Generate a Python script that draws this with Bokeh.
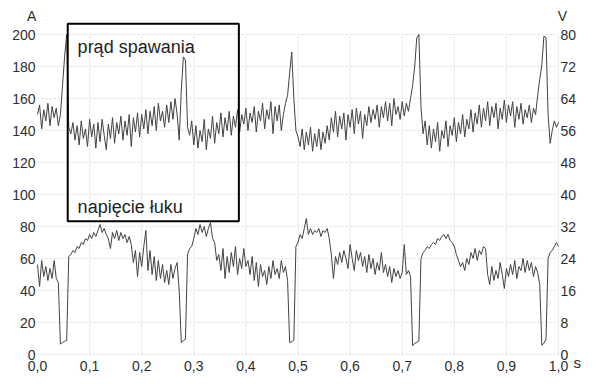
import numpy as np
from bokeh.plotting import figure
from bokeh.models import Range1d, BoxAnnotation, Label, ColumnDataSource
from bokeh.core.properties import value
from bokeh.embed import file_html
from bokeh.resources import INLINE

# ---- data ----
time_step_s = 0.004

current_A = [
    150, 156, 141, 153, 146, 157, 143, 155, 148, 154,
    143, 150, 168, 186, 200, 142, 138, 145, 134, 143,
    131, 146, 135, 141, 130, 147, 136, 144, 129, 145,
    133, 147, 137, 128, 144, 135, 148, 132, 145, 138,
    149, 134, 146, 137, 150, 130, 148, 139, 151, 136,
    150, 141, 153, 138, 152, 143, 155, 140, 157, 146,
    152, 142, 156, 145, 158, 147, 160, 150, 134, 165,
    186, 184, 142, 137, 146, 131, 143, 129, 140, 133,
    147, 128, 141, 135, 149, 132, 145, 138, 151, 136,
    148, 140, 152, 137, 149, 142, 153, 139, 150, 144,
    154, 140, 151, 145, 155, 139, 152, 146, 157, 141,
    153, 147, 158, 138, 155, 146, 156, 140, 150, 157,
    162, 176, 189, 160, 140, 136, 130, 141, 128, 139,
    131, 142, 127, 138, 130, 141, 128, 139, 132, 143,
    134, 148, 139, 152, 136, 149, 141, 151, 134, 150,
    142, 153, 138, 154, 144, 152, 135, 150, 143, 155,
    145, 153, 147, 156, 142, 155, 148, 158, 146, 157,
    143, 160, 150, 155, 147, 158, 149, 157, 152, 160,
    168, 180, 198, 200, 155, 138, 146, 131, 143, 129,
    141, 133, 145, 127, 140, 135, 146, 130, 143, 137,
    148, 133, 145, 138, 150, 136, 147, 141, 153, 139,
    151, 144, 156, 142, 154, 146, 158, 143, 155, 148,
    157, 141, 154, 147, 159, 145, 156, 149, 158, 142,
    155, 147, 157, 144, 153, 148, 156, 145, 154, 150,
    162, 172, 181, 199, 198, 150, 132, 140, 146, 142,
    145,
]

voltage_V = [
    22.5, 17.0, 23.5, 19.5, 22.0, 18.5, 21.5, 19.0, 23.5, 19.0,
    18.0, 2.6, 3.0, 3.3, 3.5, 24.5, 25.0, 26.0, 25.5, 27.0,
    26.5, 28.0, 27.5, 29.0, 28.5, 30.0, 29.0, 30.5, 29.5, 31.0,
    32.5, 30.5, 31.5, 30.0, 29.0, 26.5, 30.5, 29.0, 31.0, 28.5,
    30.5, 29.0, 30.0, 28.0, 29.5, 27.5, 23.0, 26.0, 19.5, 25.5,
    22.0, 27.0, 31.0, 21.0, 26.0, 20.0, 24.5, 18.5, 23.5, 19.0,
    22.5, 18.0, 21.0, 17.5, 22.5, 19.0, 21.5, 23.0, 16.0, 3.0,
    3.5, 3.8, 25.0, 26.5, 27.0, 29.0, 31.5, 30.0, 32.5, 30.5,
    32.0, 29.5, 31.5, 33.0, 29.0, 28.0, 23.5, 25.0, 21.0, 26.5,
    19.0, 24.5, 20.5, 25.5, 22.0, 27.0, 20.0, 24.0, 21.5, 26.5,
    22.0, 23.5, 20.0, 24.5, 18.5, 23.0, 17.0, 22.5, 19.5, 21.0,
    17.5, 22.0, 19.0, 23.5, 20.0, 21.5, 19.0, 23.5, 20.5, 22.0,
    18.5, 3.0, 3.2, 3.6, 27.0, 28.0, 30.0, 29.0, 31.5, 34.0,
    30.0, 31.5, 30.0, 31.0, 30.5, 31.5, 29.5, 31.0, 30.5, 31.5,
    29.0, 25.0, 19.0, 24.5, 22.5, 25.5, 23.0, 26.0, 24.0, 21.5,
    27.5, 24.0, 21.0, 26.0, 23.5, 25.5, 22.0, 24.5, 20.5, 25.0,
    21.5, 24.0, 20.0, 23.0, 21.0, 25.5, 20.5, 22.5, 19.5, 22.0,
    18.0, 21.5, 19.5, 21.0, 19.0, 20.5, 27.5, 20.0, 21.0, 19.5,
    2.2, 2.8, 3.0, 3.4, 24.0, 25.5, 26.0, 27.0, 26.5, 27.5,
    28.0, 27.5, 29.0, 28.5, 29.5, 30.0, 29.0, 30.0, 28.5, 28.0,
    27.0, 25.0, 23.5, 22.0, 23.0, 21.0, 24.0, 22.5, 25.5, 24.0,
    26.5, 23.5, 26.0, 25.0, 27.0, 26.5, 20.0, 17.5, 22.0, 18.5,
    21.0, 19.0, 23.0, 20.0, 16.5, 21.5, 19.5, 22.5, 20.0, 23.5,
    19.0, 22.0, 21.0, 24.0, 20.5, 23.5, 21.0, 23.0, 19.5, 22.0,
    20.5, 17.5, 2.3, 2.8, 3.8, 24.0, 25.5, 26.0, 27.0, 28.0,
    27.0,
]

x_ticks = [0.0, 0.1, 0.2, 0.3, 0.4, 0.5, 0.6, 0.7, 0.8, 0.9, 1.0]
y_ticks_A = [0, 20, 40, 60, 80, 100, 120, 140, 160, 180, 200]
y_ticks_V = [0, 8, 16, 24, 32, 40, 48, 56, 64, 72, 80]

label_current = "prąd spawania"
label_voltage = "napięcie łuku"
unit_left = "A"
unit_right = "V"
unit_x = "s"

# ---- layout constants (pixels of the 584x374 canvas) ----
W, H = 584, 374
X0_PX, X1_PX = 37, 558          # where t=0 and t=1 sit
Y0_PX, PX_PER_A = 354, 1.6      # where 0 A sits, and pixels per ampere
V_PER_A = 80.0 / 200.0

x_start = -X0_PX / (X1_PX - X0_PX)
x_end = (W - X0_PX) / (X1_PX - X0_PX)
y_start = (Y0_PX - H) / PX_PER_A
y_end = Y0_PX / PX_PER_A

t = np.round(np.arange(len(current_A)) * time_step_s, 3)
src = ColumnDataSource(dict(t=t, a=current_A, v=voltage_V))

FONT = "Liberation Sans"
TXT = "#2e2e2e"
LINE = "#424242"
GRID = "#dcdcdc"

p = figure(width=W, height=H, output_backend="svg", toolbar_location=None,
           x_range=Range1d(x_start, x_end), y_range=Range1d(y_start, y_end),
           x_axis_type=None, y_axis_type=None, min_border=0)
p.extra_y_ranges = {"V": Range1d(y_start * V_PER_A, y_end * V_PER_A)}
p.outline_line_color = None
p.background_fill_color = "white"
p.border_fill_color = "white"

# dotted grid (from the tick arrays)
p.segment(x0=x_ticks[1:], y0=[y_ticks_A[0]] * (len(x_ticks) - 1),
          x1=x_ticks[1:], y1=[y_ticks_A[-1]] * (len(x_ticks) - 1),
          line_color=GRID, line_dash="2 2", line_width=1)
p.segment(x0=[x_ticks[0]] * len(y_ticks_A), y0=y_ticks_A,
          x1=[x_ticks[-1]] * len(y_ticks_A), y1=y_ticks_A,
          line_color=GRID, line_dash="2 2", line_width=1)

# traces
p.line("t", "a", source=src, line_color=LINE, line_width=1)
p.line("t", "v", source=src, line_color=LINE, line_width=1, y_range_name="V")

# tick labels
fmt_x = [f"{v:.1f}".replace(".", ",") for v in x_ticks]
p.text(x=x_ticks, y=[y_ticks_A[0]] * len(x_ticks), text=fmt_x,
       x_offset=0, y_offset=11,
       text_font=value(FONT), text_font_size="14px", text_color=TXT,
       text_align="center", text_baseline="middle")
p.text(x=[x_ticks[0]] * len(y_ticks_A), y=y_ticks_A, text=[str(v) for v in y_ticks_A],
       x_offset=-2,
       text_font=value(FONT), text_font_size="14px", text_color=TXT,
       text_align="right", text_baseline="middle")
p.text(x=[x_ticks[-1]] * len(y_ticks_V), y=y_ticks_V, text=[str(v) for v in y_ticks_V],
       x_offset=2, y_range_name="V",
       text_font=value(FONT), text_font_size="14px", text_color=TXT,
       text_align="left", text_baseline="middle")

# legend box
p.add_layout(BoxAnnotation(left=0.058, right=0.3865, bottom=83.3, top=206.7,
                           fill_alpha=0, fill_color=None, line_color="black",
                           line_alpha=1.0, line_width=2))
p.add_layout(Label(x=0.077, y=192.5, text=label_current, text_font=FONT,
                   text_font_size="18px", text_color="#1e1e1e",
                   text_baseline="alphabetic"))
p.add_layout(Label(x=0.077, y=92.4, text=label_voltage, text_font=FONT,
                   text_font_size="18px", text_color="#1e1e1e",
                   text_baseline="alphabetic"))

# unit labels
p.add_layout(Label(x=-0.011, y=211.5, text=unit_left, text_font=FONT,
                   text_font_size="14px", text_color=TXT,
                   text_align="center", text_baseline="middle"))
p.add_layout(Label(x=1.0075, y=211.5, text=unit_right, text_font=FONT,
                   text_font_size="14px", text_color=TXT,
                   text_align="center", text_baseline="middle"))
p.add_layout(Label(x=1.036, y=-5.0, text=unit_x, text_font=FONT,
                   text_font_size="15px", text_color=TXT,
                   text_align="center", text_baseline="middle"))

open("out.html", "w").write(file_html(p, INLINE))
